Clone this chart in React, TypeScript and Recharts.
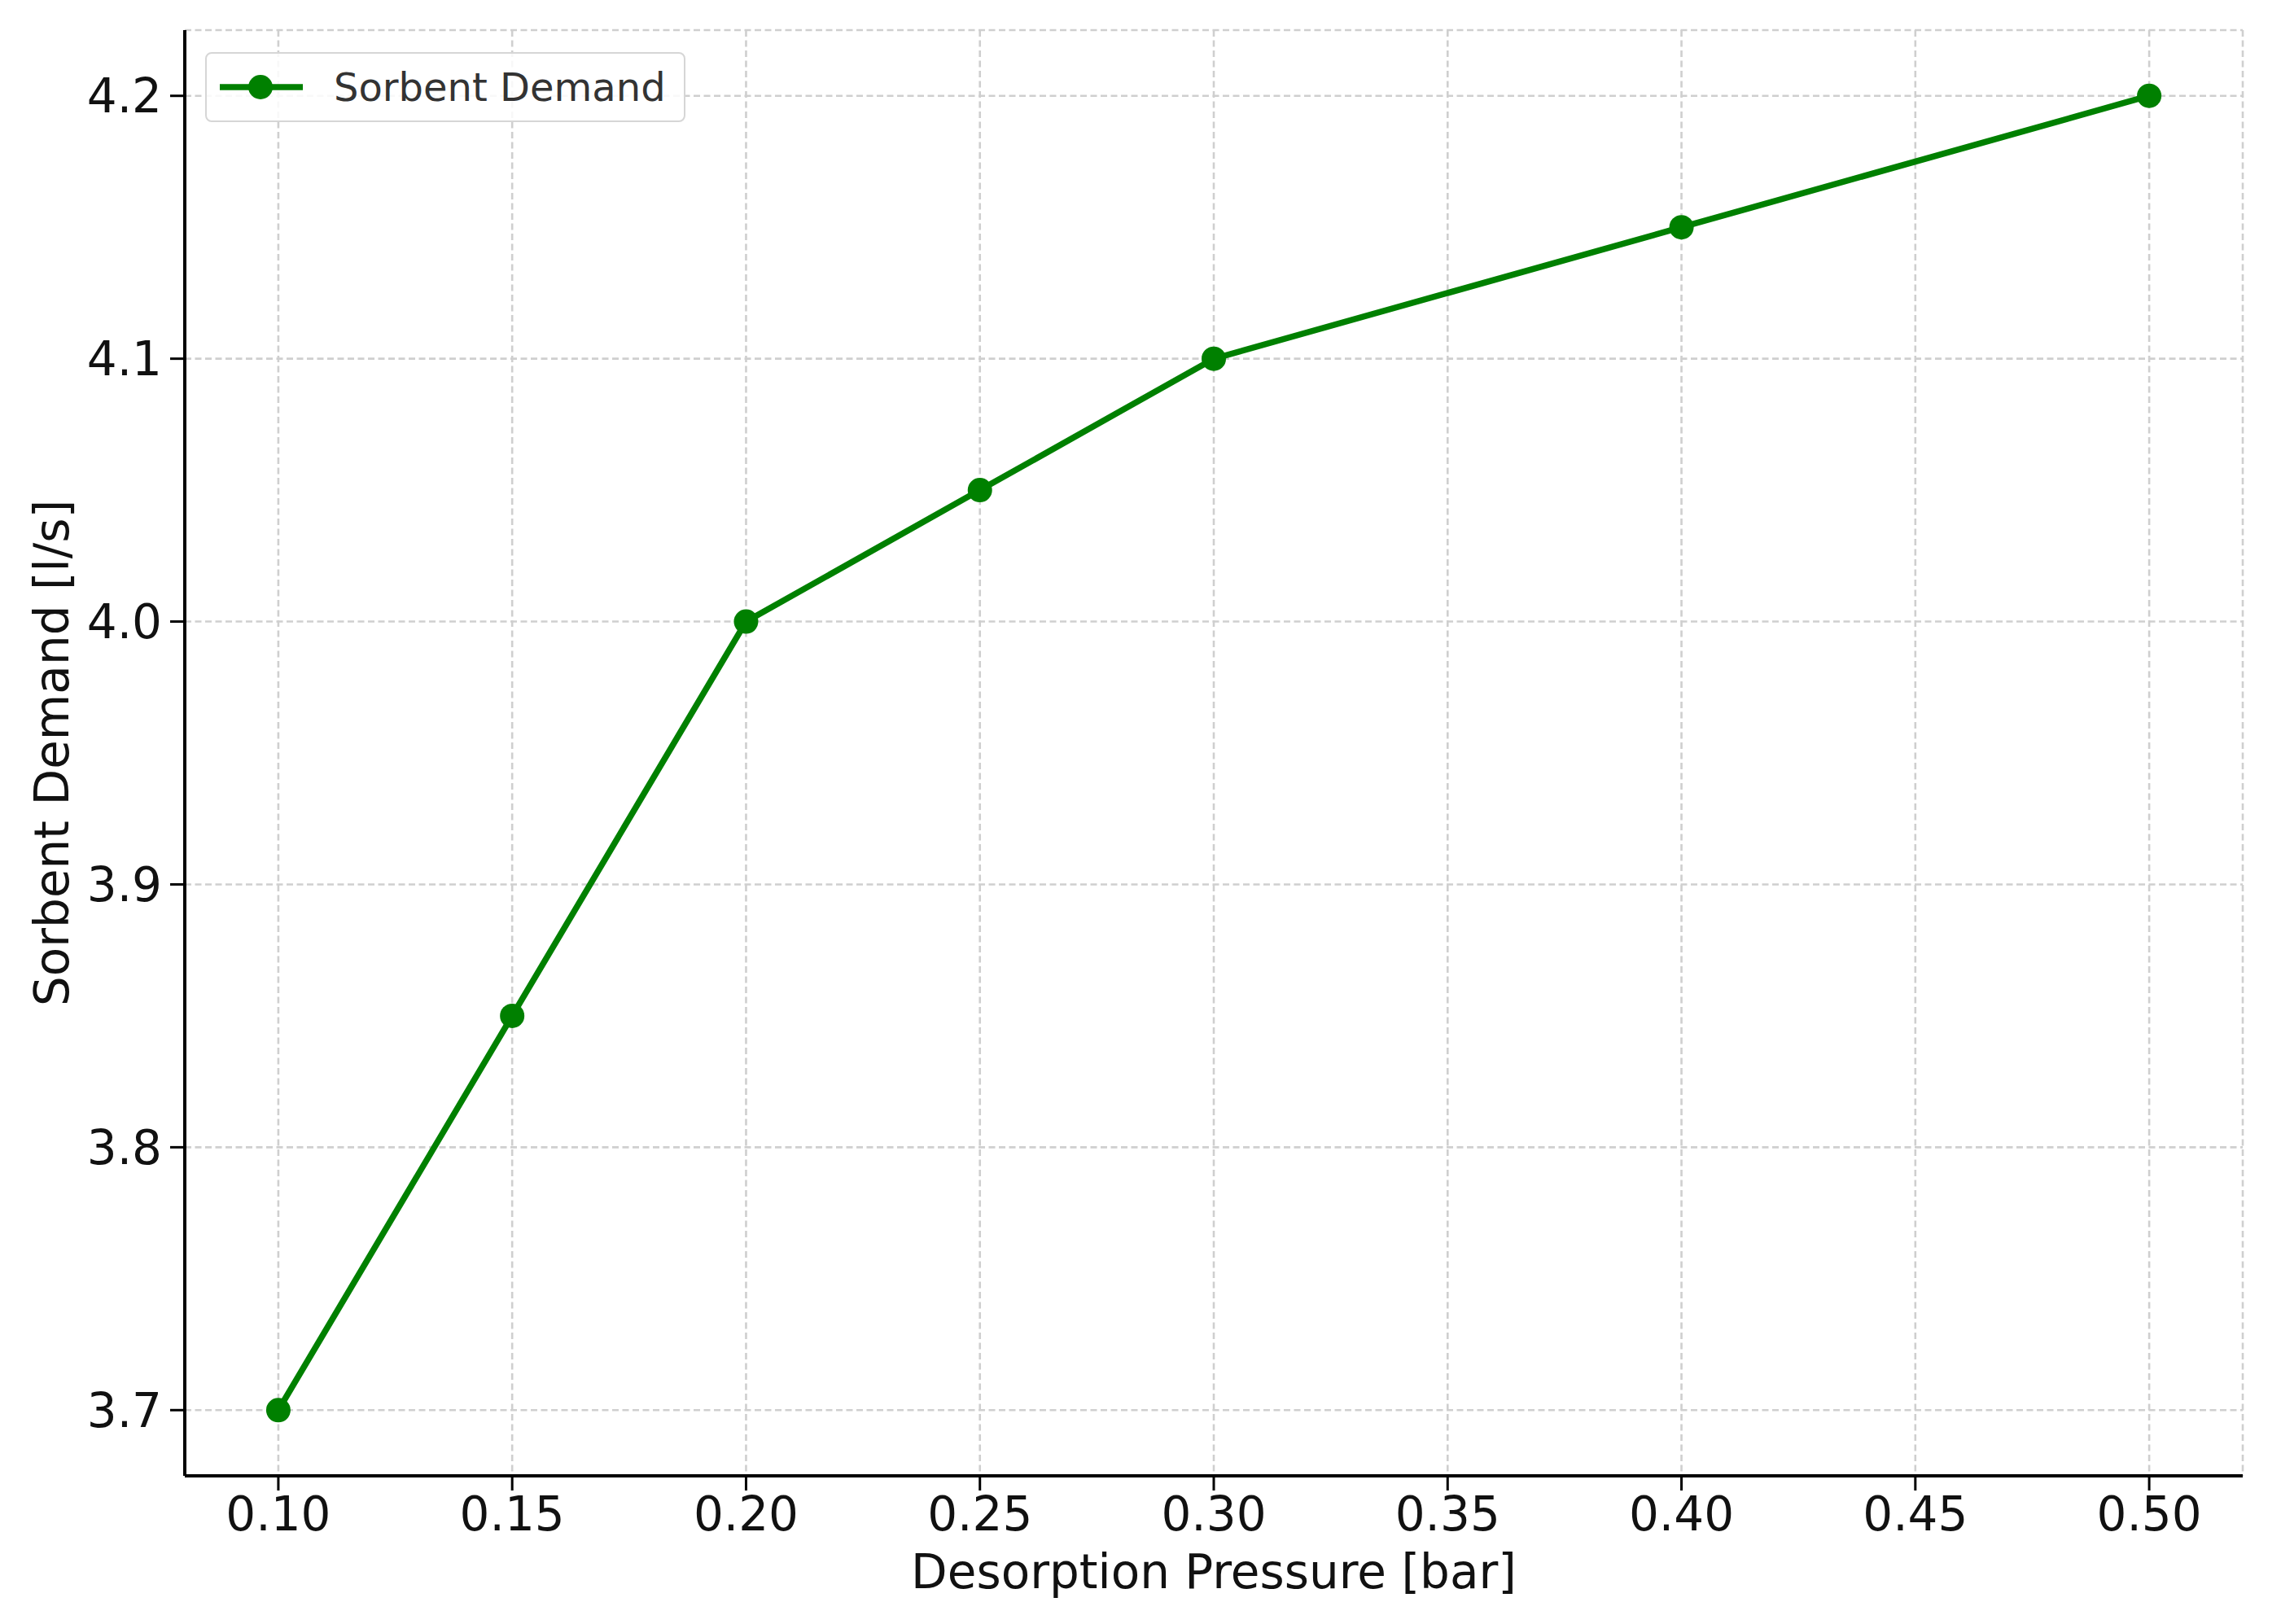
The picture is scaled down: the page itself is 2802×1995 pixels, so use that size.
import React from "react";
import { LineChart, Line, XAxis, YAxis, CartesianGrid, Legend } from "recharts";

const pressures = [0.1, 0.15, 0.2, 0.25, 0.3, 0.4, 0.5];
const sorbentDemand = [3.7, 3.85, 4.0, 4.05, 4.1, 4.15, 4.2];
const xTicks = [0.1, 0.15, 0.2, 0.25, 0.3, 0.35, 0.4, 0.45, 0.5];
const yTicks = [3.7, 3.8, 3.9, 4.0, 4.1, 4.2];

const data = pressures.map((p, i) => ({ pressure: p, demand: sorbentDemand[i] }));

const GREEN = "#008000";
const FONT = "DejaVu Sans";
const tickStyle = { fontSize: 58, fill: "#111", fontFamily: FONT };

function YLabel({ viewBox }: any) {
  const cx = 64;
  const cy = viewBox.y + viewBox.height / 2;
  return (
    <text
      x={cx}
      y={cy}
      transform={`rotate(-90 ${cx} ${cy})`}
      textAnchor="middle"
      dominantBaseline="central"
      fontSize={58}
      fontFamily={FONT}
      fill="#111"
    >
      Sorbent Demand [l/s]
    </text>
  );
}

function LegendBox() {
  return (
    <div
      style={{
        width: 586,
        height: 82,
        border: "2px solid #d6d6d6",
        borderRadius: 8,
        background: "rgba(255,255,255,0.85)",
        position: "relative",
        fontFamily: FONT,
      }}
    >
      <svg width={130} height={82} style={{ position: "absolute", left: 0, top: 0 }}>
        <line x1={16} y1={41} x2={118} y2={41} stroke={GREEN} strokeWidth={7.5} />
        <circle cx={66} cy={41} r={15} fill={GREEN} />
      </svg>
      <span
        style={{
          position: "absolute",
          left: 156,
          top: 0,
          lineHeight: "82px",
          fontSize: 48,
          color: "#333",
        }}
      >
        Sorbent Demand
      </span>
    </div>
  );
}

export default function App() {
  return (
    <div style={{ width: 2802, height: 1995, background: "#fff" }}>
      <style>{"body{margin:0}"}</style>
      <LineChart
        width={2802}
        height={1995}
        data={data}
        margin={{ top: 37, right: 47, bottom: 0, left: 0 }}
      >
        <CartesianGrid stroke="#cfcfcf" strokeWidth={2.6} strokeDasharray="8 4.5" />
        <XAxis
          type="number"
          dataKey="pressure"
          domain={[0.08, 0.52]}
          ticks={xTicks}
          tickFormatter={(v: number) => v.toFixed(2)}
          height={182}
          tick={tickStyle}
          tickSize={18}
          tickMargin={8}
          axisLine={{ stroke: "#000", strokeWidth: 4 }}
          tickLine={{ stroke: "#000", strokeWidth: 3 }}
          allowDataOverflow
          label={{
            value: "Desorption Pressure [bar]",
            position: "insideBottom",
            offset: 44,
            fontSize: 58,
            fontFamily: FONT,
            fill: "#111",
          }}
        />
        <YAxis
          type="number"
          domain={[3.675, 4.225]}
          ticks={yTicks}
          tickFormatter={(v: number) => v.toFixed(1)}
          width={227}
          tick={tickStyle}
          tickSize={18}
          tickMargin={10}
          axisLine={{ stroke: "#000", strokeWidth: 4 }}
          tickLine={{ stroke: "#000", strokeWidth: 3 }}
          allowDataOverflow
          label={<YLabel />}
        />
        <Legend
          layout="vertical"
          align="center"
          verticalAlign="middle"
          wrapperStyle={{ left: 252, top: 64, width: 590, height: 86 }}
          content={() => <LegendBox />}
        />
        <Line
          type="linear"
          dataKey="demand"
          name="Sorbent Demand"
          stroke={GREEN}
          strokeWidth={7.5}
          dot={{ r: 15, fill: GREEN, stroke: "none" }}
          activeDot={false}
          isAnimationActive={false}
        />
      </LineChart>
    </div>
  );
}
